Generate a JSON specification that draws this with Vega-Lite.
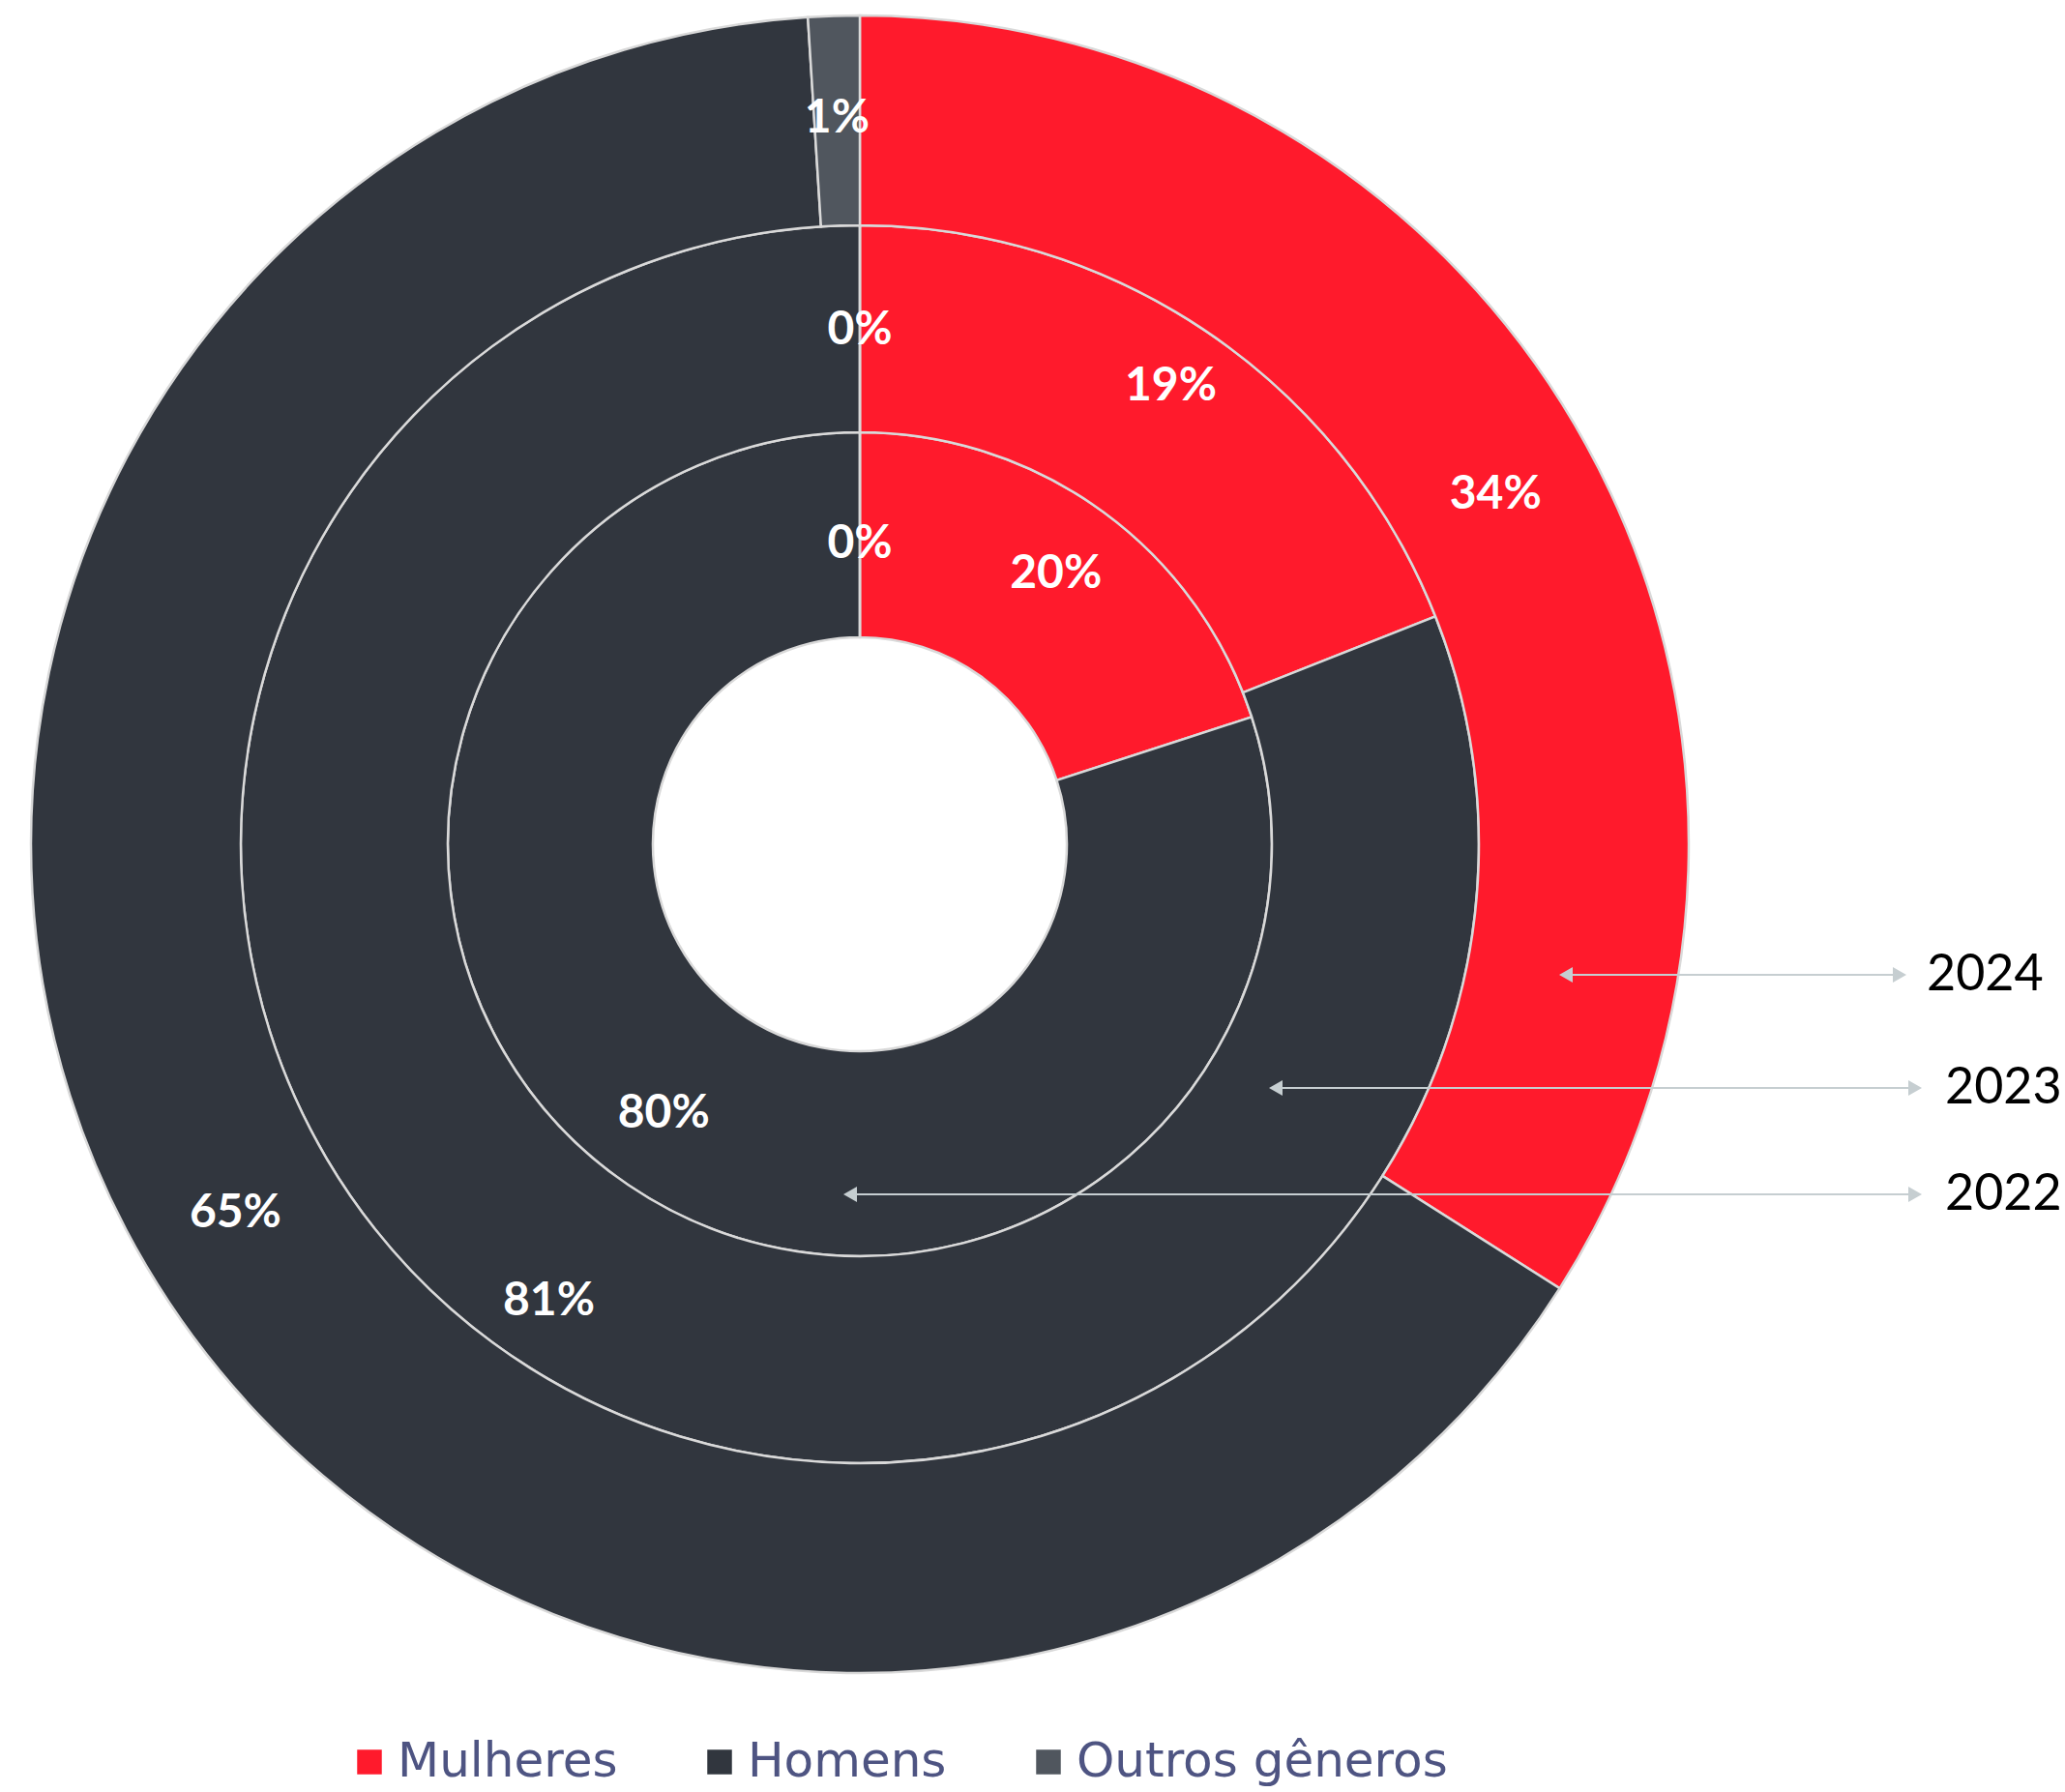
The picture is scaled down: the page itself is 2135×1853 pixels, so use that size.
{
  "$schema": "https://vega.github.io/schema/vega-lite/v6.json",
  "width": 2135,
  "height": 1853,
  "autosize": "none",
  "padding": 0,
  "background": "white",
  "config": {
    "view": {"stroke": null},
    "font": "Lato",
    "legend": {
      "labelFont": "DejaVu Sans",
      "labelFontSize": 50,
      "labelColor": "#4E5482",
      "labelLimit": 0,
      "symbolType": "square",
      "symbolSize": 650,
      "symbolStrokeWidth": 0,
      "columnPadding": 80,
      "labelOffset": 4,
      "padding": 0
    }
  },
  "datasets": {
    "generos": [
      {"ano": "2022", "genero": "Mulheres", "ordem": 1, "parcela": 0.20},
      {"ano": "2022", "genero": "Homens", "ordem": 2, "parcela": 0.80},
      {"ano": "2022", "genero": "Outros gêneros", "ordem": 3, "parcela": 0.0},
      {"ano": "2023", "genero": "Mulheres", "ordem": 1, "parcela": 0.19},
      {"ano": "2023", "genero": "Homens", "ordem": 2, "parcela": 0.81},
      {"ano": "2023", "genero": "Outros gêneros", "ordem": 3, "parcela": 0.0},
      {"ano": "2024", "genero": "Mulheres", "ordem": 1, "parcela": 0.34},
      {"ano": "2024", "genero": "Homens", "ordem": 2, "parcela": 0.65},
      {"ano": "2024", "genero": "Outros gêneros", "ordem": 3, "parcela": 0.01}
    ],
    "anotacoes": [
      {"ano": "2024", "x_inicio": 730, "x_fim": 1075, "y": -135, "x_texto": 1103},
      {"ano": "2023", "x_inicio": 430, "x_fim": 1091, "y": -252, "x_texto": 1122},
      {"ano": "2022", "x_inicio": -10, "x_fim": 1091, "y": -362, "x_texto": 1122}
    ]
  },
  "data": {"name": "generos"},
  "layer": [
    {
      "transform": [{"filter": "datum.ano == '2022'"}],
      "mark": {"type": "arc", "innerRadius": 214, "outerRadius": 426, "stroke": "#D9D9D9", "strokeWidth": 2.5},
      "encoding": {
        "x": {"datum": 0, "type": "quantitative", "scale": {"domain": [-889, 1246], "nice": false, "zero": false}, "axis": null},
        "y": {"datum": 0, "type": "quantitative", "scale": {"domain": [-980, 873], "nice": false, "zero": false}, "axis": null},
        "theta": {"field": "parcela", "type": "quantitative", "stack": true, "scale": {"domain": [0, 1]}},
        "order": {"field": "ordem", "type": "quantitative"},
        "color": {
          "field": "genero", "type": "nominal",
          "scale": {"domain": ["Mulheres", "Homens", "Outros gêneros"], "range": ["#FF1A2C", "#31363E", "#50565E"]},
          "legend": {"title": null, "orient": "none", "direction": "horizontal", "legendX": 357, "legendY": 1797}
        }
      }
    },
    {
      "transform": [{"filter": "datum.ano == '2023'"}],
      "mark": {"type": "arc", "innerRadius": 426, "outerRadius": 640, "stroke": "#D9D9D9", "strokeWidth": 2.5},
      "encoding": {
        "x": {"datum": 0, "type": "quantitative", "scale": {"domain": [-889, 1246], "nice": false, "zero": false}, "axis": null},
        "y": {"datum": 0, "type": "quantitative", "scale": {"domain": [-980, 873], "nice": false, "zero": false}, "axis": null},
        "theta": {"field": "parcela", "type": "quantitative", "stack": true, "scale": {"domain": [0, 1]}},
        "order": {"field": "ordem", "type": "quantitative"},
        "color": {"field": "genero", "type": "nominal"}
      }
    },
    {
      "transform": [{"filter": "datum.ano == '2024'"}],
      "mark": {"type": "arc", "innerRadius": 640, "outerRadius": 857, "stroke": "#D9D9D9", "strokeWidth": 2.5},
      "encoding": {
        "x": {"datum": 0, "type": "quantitative", "scale": {"domain": [-889, 1246], "nice": false, "zero": false}, "axis": null},
        "y": {"datum": 0, "type": "quantitative", "scale": {"domain": [-980, 873], "nice": false, "zero": false}, "axis": null},
        "theta": {"field": "parcela", "type": "quantitative", "stack": true, "scale": {"domain": [0, 1]}},
        "order": {"field": "ordem", "type": "quantitative"},
        "color": {"field": "genero", "type": "nominal"}
      }
    },
    {
      "transform": [{"filter": "datum.ano == '2022' && datum.parcela > 0"}],
      "mark": {"type": "text", "radius": 345, "fontSize": 48, "fontWeight": "bold", "fill": "white", "align": "center", "baseline": "middle"},
      "encoding": {
        "x": {"datum": 0, "type": "quantitative", "scale": {"domain": [-889, 1246], "nice": false, "zero": false}, "axis": null},
        "y": {"datum": 0, "type": "quantitative", "scale": {"domain": [-980, 873], "nice": false, "zero": false}, "axis": null},
        "theta": {"field": "parcela", "type": "quantitative", "stack": true, "scale": {"domain": [0, 1]}},
        "order": {"field": "ordem", "type": "quantitative"},
        "detail": {"field": "genero", "type": "nominal"},
        "text": {"field": "parcela", "type": "quantitative", "format": ".0%"}
      }
    },
    {
      "transform": [{"filter": "datum.ano == '2022' && datum.parcela == 0"}],
      "mark": {"type": "text", "radius": 310, "fontSize": 48, "fontWeight": "bold", "fill": "white", "align": "center", "baseline": "middle"},
      "encoding": {
        "x": {"datum": 0, "type": "quantitative", "scale": {"domain": [-889, 1246], "nice": false, "zero": false}, "axis": null},
        "y": {"datum": 0, "type": "quantitative", "scale": {"domain": [-980, 873], "nice": false, "zero": false}, "axis": null},
        "theta": {"field": "parcela", "type": "quantitative", "stack": true, "scale": {"domain": [0, 1]}},
        "order": {"field": "ordem", "type": "quantitative"},
        "detail": {"field": "genero", "type": "nominal"},
        "text": {"field": "parcela", "type": "quantitative", "format": ".0%"}
      }
    },
    {
      "transform": [{"filter": "datum.ano == '2023' && datum.parcela > 0"}],
      "mark": {"type": "text", "radius": 572, "fontSize": 48, "fontWeight": "bold", "fill": "white", "align": "center", "baseline": "middle"},
      "encoding": {
        "x": {"datum": 0, "type": "quantitative", "scale": {"domain": [-889, 1246], "nice": false, "zero": false}, "axis": null},
        "y": {"datum": 0, "type": "quantitative", "scale": {"domain": [-980, 873], "nice": false, "zero": false}, "axis": null},
        "theta": {"field": "parcela", "type": "quantitative", "stack": true, "scale": {"domain": [0, 1]}},
        "order": {"field": "ordem", "type": "quantitative"},
        "detail": {"field": "genero", "type": "nominal"},
        "text": {"field": "parcela", "type": "quantitative", "format": ".0%"}
      }
    },
    {
      "transform": [{"filter": "datum.ano == '2023' && datum.parcela == 0"}],
      "mark": {"type": "text", "radius": 531, "fontSize": 48, "fontWeight": "bold", "fill": "white", "align": "center", "baseline": "middle"},
      "encoding": {
        "x": {"datum": 0, "type": "quantitative", "scale": {"domain": [-889, 1246], "nice": false, "zero": false}, "axis": null},
        "y": {"datum": 0, "type": "quantitative", "scale": {"domain": [-980, 873], "nice": false, "zero": false}, "axis": null},
        "theta": {"field": "parcela", "type": "quantitative", "stack": true, "scale": {"domain": [0, 1]}},
        "order": {"field": "ordem", "type": "quantitative"},
        "detail": {"field": "genero", "type": "nominal"},
        "text": {"field": "parcela", "type": "quantitative", "format": ".0%"}
      }
    },
    {
      "transform": [{"filter": "datum.ano == '2024'"}],
      "mark": {"type": "text", "radius": 750, "fontSize": 48, "fontWeight": "bold", "fill": "white", "align": "center", "baseline": "middle"},
      "encoding": {
        "x": {"datum": 0, "type": "quantitative", "scale": {"domain": [-889, 1246], "nice": false, "zero": false}, "axis": null},
        "y": {"datum": 0, "type": "quantitative", "scale": {"domain": [-980, 873], "nice": false, "zero": false}, "axis": null},
        "theta": {"field": "parcela", "type": "quantitative", "stack": true, "scale": {"domain": [0, 1]}},
        "order": {"field": "ordem", "type": "quantitative"},
        "detail": {"field": "genero", "type": "nominal"},
        "text": {"field": "parcela", "type": "quantitative", "format": ".0%"}
      }
    },
    {
      "data": {"name": "anotacoes"},
      "mark": {"type": "rule", "color": "#C6CED1", "strokeWidth": 2},
      "encoding": {
        "x": {"field": "x_inicio", "type": "quantitative", "scale": {"domain": [-889, 1246], "nice": false, "zero": false}, "axis": null},
        "x2": {"field": "x_fim"},
        "y": {"field": "y", "type": "quantitative", "scale": {"domain": [-980, 873], "nice": false, "zero": false}, "axis": null}
      }
    },
    {
      "data": {"name": "anotacoes"},
      "mark": {"type": "point", "shape": "triangle-left", "filled": true, "fill": "#C6CED1", "strokeWidth": 0, "size": 260, "opacity": 1},
      "encoding": {
        "x": {"field": "x_inicio", "type": "quantitative", "scale": {"domain": [-889, 1246], "nice": false, "zero": false}, "axis": null},
        "y": {"field": "y", "type": "quantitative", "scale": {"domain": [-980, 873], "nice": false, "zero": false}, "axis": null}
      }
    },
    {
      "data": {"name": "anotacoes"},
      "mark": {"type": "point", "shape": "triangle-right", "filled": true, "fill": "#C6CED1", "strokeWidth": 0, "size": 260, "opacity": 1},
      "encoding": {
        "x": {"field": "x_fim", "type": "quantitative", "scale": {"domain": [-889, 1246], "nice": false, "zero": false}, "axis": null},
        "y": {"field": "y", "type": "quantitative", "scale": {"domain": [-980, 873], "nice": false, "zero": false}, "axis": null}
      }
    },
    {
      "data": {"name": "anotacoes"},
      "mark": {"type": "text", "align": "left", "baseline": "middle", "fontSize": 52, "fill": "black", "font": "Lato"},
      "encoding": {
        "x": {"field": "x_texto", "type": "quantitative", "scale": {"domain": [-889, 1246], "nice": false, "zero": false}, "axis": null},
        "y": {"field": "y", "type": "quantitative", "scale": {"domain": [-980, 873], "nice": false, "zero": false}, "axis": null},
        "text": {"field": "ano", "type": "nominal"}
      }
    }
  ]
}
